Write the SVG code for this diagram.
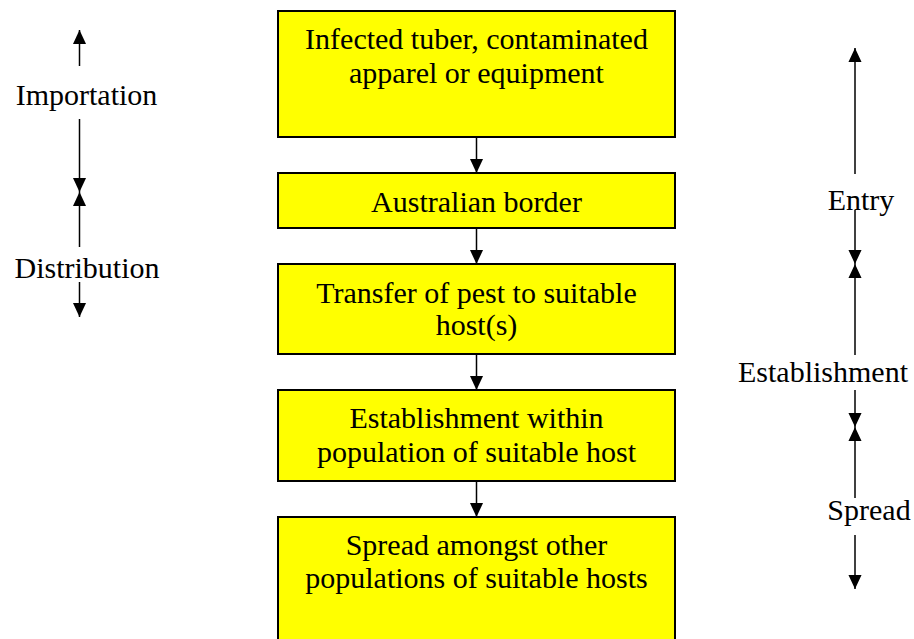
<svg xmlns="http://www.w3.org/2000/svg" width="914" height="639" viewBox="0 0 914 639">
<style>
.box{fill:#ffff00;stroke:#000;stroke-width:2}
text{font-size:30px;fill:#000;text-anchor:middle}
.c line{stroke:#000;stroke-width:1.5;marker-end:url(#ah)}
</style>
<defs>
<marker id="ah" markerUnits="userSpaceOnUse" markerWidth="14" markerHeight="14" refX="15" refY="7" orient="auto" viewBox="0 0 15 14">
<path d="M0,0 L15,7 L0,14 Z" fill="#000"/>
</marker>
</defs>
<rect width="914" height="639" fill="#fff"/>
<g font-family="'Liberation Serif', Tinos, 'Times New Roman', 'DejaVu Serif', serif">
<g id="n1"><rect class="box" x="278" y="11" width="397" height="126"/><text x="476.5" y="49">Infected tuber, contaminated</text><text x="476.5" y="83">apparel or equipment</text></g>
<g id="n2"><rect class="box" x="278" y="173" width="397" height="55"/><text x="476.5" y="212">Australian border</text></g>
<g id="n3"><rect class="box" x="278" y="264" width="397" height="90"/><text x="476.5" y="303">Transfer of pest to suitable</text><text x="476.5" y="335">host(s)</text></g>
<g id="n4"><rect class="box" x="278" y="390" width="397" height="91"/><text x="476.5" y="428">Establishment within</text><text x="476.5" y="462">population of suitable host</text></g>
<g id="n5"><rect class="box" x="278" y="517" width="397" height="130"/><text x="476.5" y="555">Spread amongst other</text><text x="476.5" y="588">populations of suitable hosts</text></g>
<g id="labels">
<text x="86.5" y="105">Importation</text>
<text x="87" y="278">Distribution</text>
<text x="861" y="210">Entry</text>
<text x="823" y="382">Establishment</text>
<text x="869" y="520">Spread</text>
</g>
</g>
<g id="connectors" class="c">
<line x1="476.5" y1="137" x2="476.5" y2="173"/>
<line x1="476.5" y1="228" x2="476.5" y2="264"/>
<line x1="476.5" y1="354" x2="476.5" y2="390"/>
<line x1="476.5" y1="481" x2="476.5" y2="517"/>
<line x1="79.5" y1="66" x2="79.5" y2="30"/>
<line x1="79.5" y1="119" x2="79.5" y2="192"/>
<line x1="79.5" y1="247" x2="79.5" y2="192"/>
<line x1="79.5" y1="282" x2="79.5" y2="317"/>
<line x1="855" y1="174" x2="855" y2="48"/>
<line x1="855" y1="210" x2="855" y2="264"/>
<line x1="855" y1="355" x2="855" y2="264"/>
<line x1="855" y1="390" x2="855" y2="427"/>
<line x1="855" y1="498" x2="855" y2="427"/>
<line x1="855" y1="535" x2="855" y2="589"/>
</g>
</svg>
